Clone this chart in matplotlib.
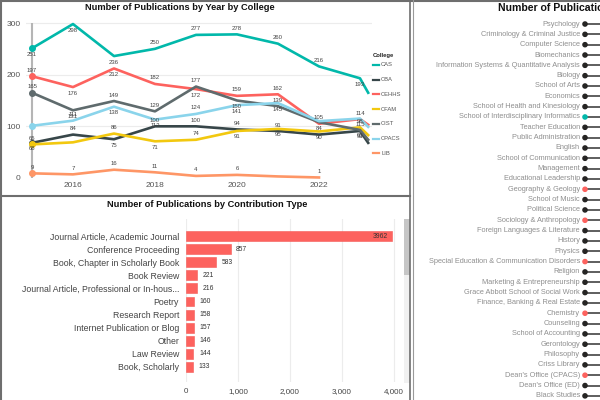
import matplotlib
matplotlib.use("Agg")
import numpy as np
import matplotlib.pyplot as plt
from matplotlib.lines import Line2D
from matplotlib.patches import Rectangle

W, H = 600, 400

# -------------------------------
# Data
# -------------------------------
years = [2015, 2016, 2017, 2018, 2019, 2020, 2021, 2022, 2023, 2023.2]
lib_years = [2015, 2016, 2017, 2018, 2019, 2020, 2021, 2022]
colleges = ["CAS", "CBA", "CEHHS", "CFAM", "CIST", "CPACS", "LIB"]
cas = [251, 298, 236, 250, 277, 278, 260, 216, 193, 165]
cba = [68, 84, 75, 100, 100, 94, 91, 84, 91, 68]
cehhs = [197, 176, 212, 182, 172, 159, 162, 105, 114, 103]
cfam = [65, 69, 86, 71, 74, 91, 95, 90, 98, 83]
cist = [165, 131, 149, 129, 177, 150, 139, 108, 93, 74]
cpacs = [101, 111, 138, 113, 124, 141, 145, 110, 115, 99]
lib = [9, 7, 16, 11, 4, 6, 3, 1]

contrib_types = [
    "Journal Article, Academic Journal",
    "Conference Proceeding",
    "Book, Chapter in Scholarly Book",
    "Book Review",
    "Journal Article, Professional or In-hous...",
    "Poetry",
    "Research Report",
    "Internet Publication or Blog",
    "Other",
    "Law Review",
    "Book, Scholarly",
]
contrib_counts = [3962, 857, 583, 221, 216, 160, 158, 157, 146, 144, 133]

departments = [
    "Psychology", "Criminology & Criminal Justice", "Computer Science", "Biomechanics",
    "Information Systems & Quantitative Analysis", "Biology", "School of Arts", "Economics",
    "School of Health and Kinesiology", "School of Interdisciplinary Informatics",
    "Teacher Education", "Public Administration", "English", "School of Communication",
    "Management", "Educational Leadership", "Geography & Geology", "School of Music",
    "Political Science", "Sociology & Anthropology", "Foreign Languages & Literature",
    "History", "Physics", "Special Education & Communication Disorders", "Religion",
    "Marketing & Entrepreneurship", "Grace Abbott School of Social Work",
    "Finance, Banking & Real Estate", "Chemistry", "Counseling", "School of Accounting",
    "Gerontology", "Philosophy", "Criss Library", "Dean's Office (CPACS)",
    "Dean's Office (ED)", "Black Studies",
]
# counts run off the right edge of the screenshot, rough guesses only
dept_counts = [520, 470, 430, 400, 380, 360, 340, 320, 300, 290, 280, 270, 250, 240,
               230, 220, 210, 200, 190, 180, 170, 160, 150, 140, 130, 120, 110, 100,
               95, 90, 85, 80, 75, 70, 65, 60, 55]
dept_teal = ["School of Interdisciplinary Informatics"]
dept_red = ["Geography & Geology", "Sociology & Anthropology",
            "Special Education & Communication Disorders", "Chemistry", "Dean's Office (CPACS)"]

# -------------------------------
# Styling
# -------------------------------
colors = ["#01B8AA", "#374649", "#FD625E", "#F2C80F", "#5F6B6D", "#8AD4EB", "#FE9666"]
# +1 label above point, -1 below, 0 hidden
sides = [
    [-1, -1, -1, 1, 1, 1, 1, 1, -1, 0],
    [-1, 1, -1, 1, 1, 1, 1, 1, -1, 0],
    [1, -1, -1, 1, -1, 1, 1, 1, 1, 0],
    [1, 0, 1, -1, 1, -1, -1, -1, 1, 0],
    [1, -1, 1, 1, 1, -1, 1, 0, -1, 0],
    [0, 1, -1, -1, 1, -1, -1, 0, -1, 0],
    [1, 1, 1, 1, 1, 1, 0, 1],
]

plt.rcParams["font.family"] = ["Liberation Sans", "DejaVu Sans"]
TXT = "#444444"


def px_rect(x0, y0, x1, y1):
    return [x0 / W, 1 - y1 / H, (x1 - x0) / W, (y1 - y0) / H]


fig = plt.figure(figsize=(6, 4), dpi=100)
fig.patch.set_facecolor("white")

# -------------------------------
# Line chart: publications by year by college
# -------------------------------
ax = fig.add_axes(px_rect(26, 18, 372, 180))
ax.set_xlim(2014.854, 2023.293)
ax.set_ylim(-3.9, 309.7)
for s in ax.spines.values():
    s.set_visible(False)
ax.set_yticks([0, 100, 200, 300])
ax.set_xticks([2016, 2018, 2020, 2022])
ax.tick_params(length=0, labelsize=6, labelcolor="#555555")
ax.tick_params(axis="y", pad=4)
ax.tick_params(axis="x", pad=1.5)
for yv in [100, 200, 300]:
    ax.axhline(yv, color="#ececec", lw=0.8, zorder=0)
ax.vlines(2015, 0, 300, color="#b5b5b5", lw=1.5, zorder=1)

series = [cas, cba, cehhs, cfam, cist, cpacs, lib]
for name, vals, col, side in zip(colleges, series, colors, sides):
    xs = lib_years if name == "LIB" else years
    ax.plot(xs, vals, color=col, lw=1.9, marker="o", markersize=4,
            markevery=[0], solid_joinstyle="round", zorder=3)
    for x, v, sd in zip(xs, vals, side):
        if sd == 0:
            continue
        ax.annotate(str(v), (x, v), xytext=(0, 2.5 * sd), textcoords="offset points",
                    ha="center", va="bottom" if sd > 0 else "top",
                    fontsize=4.3, color=TXT, zorder=4)

fig.text(180 / W, 1 - 8 / H, "Number of Publications by Year by College",
         ha="center", va="center", fontsize=6.7, fontweight="bold", color="#111111")

# legend drawn by hand to sit in the right margin
fig.text(373 / W, 1 - 55 / H, "College", ha="left", va="center",
         fontsize=4.2, fontweight="bold", color="#222222")
for i, (name, col) in enumerate(zip(colleges, colors)):
    yy = 1 - (65 + 14.7 * i) / H
    fig.add_artist(Line2D([373 / W, 379 / W], [yy, yy], color=col, lw=1.6))
    fig.text(381 / W, yy, name, ha="left", va="center", fontsize=4.2, color="#555555")

# -------------------------------
# Bar chart: publications by contribution type
# -------------------------------
bx = fig.add_axes(px_rect(186, 219, 400, 382))
ypos = np.arange(len(contrib_types))
bx.barh(ypos, contrib_counts, height=0.76, color="#FD625E", edgecolor="#F55A56",
        lw=0.4, zorder=3)
bx.set_ylim(11.15, -1.3)
bx.set_xlim(0, 4115)
for s in bx.spines.values():
    s.set_visible(False)
bx.set_yticks(ypos)
bx.set_yticklabels(contrib_types, family=["Liberation Sans Narrow", "Liberation Sans"])
bx.set_xticks([0, 1000, 2000, 3000, 4000])
bx.set_xticklabels(["0", "1,000", "2,000", "3,000", "4,000"])
bx.tick_params(length=0, labelsize=6, labelcolor="#444444")
bx.tick_params(axis="y", pad=5, labelsize=6.3)
bx.tick_params(axis="x", pad=4.5, labelsize=5.8)
bx.grid(axis="x", color="#ececec", lw=0.8, zorder=0)
for y, v in zip(ypos, contrib_counts):
    inside = v > 3500
    bx.annotate(str(v), (v, y), xytext=(-3 if inside else 4, 0), textcoords="offset points",
                ha="right" if inside else "left", va="center", fontsize=4.9, color="#333333")

fig.text(207 / W, 1 - 205 / H, "Number of Publications by Contribution Type",
         ha="center", va="center", fontsize=6.7, fontweight="bold", color="#111111")

# scroll bar of the bar visual
fig.add_artist(Rectangle((404 / W, 1 - 383 / H), 6 / W, 164 / H,
                         transform=fig.transFigure, color="#f1f1f1", lw=0))
fig.add_artist(Rectangle((404 / W, 1 - 275 / H), 6 / W, 56 / H,
                         transform=fig.transFigure, color="#c6c6c6", lw=0))

# -------------------------------
# Department dot chart (cut off on the right)
# -------------------------------
dx = fig.add_axes(px_rect(416, 14, 600, 400))
dy = np.arange(len(departments))
dx.set_xlim(-169, 15)
dx.set_ylim(36.4, -0.97)
dx.axis("off")
dot_cols = []
for d in departments:
    if d in dept_teal:
        dot_cols.append("#01B8AA")
    elif d in dept_red:
        dot_cols.append("#FD625E")
    else:
        dot_cols.append("#252423")
dx.hlines(dy, 0, dept_counts, color="#333333", lw=1.1, zorder=2)
dx.scatter(np.zeros(len(dy)), dy, s=9, c=dot_cols, zorder=3, clip_on=False)
for y, d in zip(dy, departments):
    dx.text(-5, y, d, ha="right", va="center", fontsize=5.3, color="#8f8f8f")

# the title is cut by the screenshot edge, as in the source
fig.text(498 / W, 1 - 8 / H, "Number of Publications by Department",
         ha="left", va="center", fontsize=7.6, fontweight="bold", color="#111111")

# -------------------------------
# Panel borders
# -------------------------------
border = "#6e6e6e"
fig.add_artist(Line2D([0, 1], [1 - 0.8 / H, 1 - 0.8 / H], color=border, lw=1.5))
fig.add_artist(Line2D([1 / W, 1 / W], [0, 1], color=border, lw=1.5))
fig.add_artist(Line2D([0, 410 / W], [1 - 196 / H, 1 - 196 / H], color=border, lw=1.5))
fig.add_artist(Line2D([410 / W, 410 / W], [0, 1], color=border, lw=1.2))
fig.add_artist(Line2D([413 / W, 413 / W], [0, 1], color="#9a9a9a", lw=0.8))

fig.savefig("out.png", dpi=100)
